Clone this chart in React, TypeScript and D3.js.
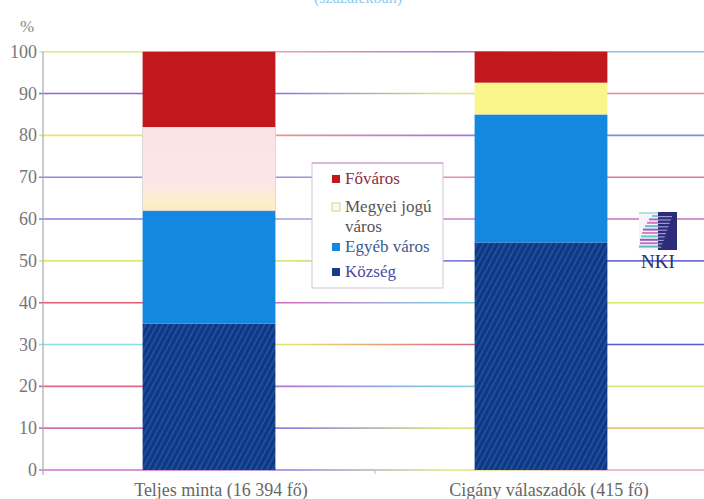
import React from "react";
import * as d3 from "d3";

const categories = ["Teljes minta (16 394 fő)", "Cigány válaszadók (415 fő)"];
const seriesNames = ["Község", "Egyéb város", "Megyei jogú város", "Főváros"];
const kozseg = [35, 54.4];
const egyeb = [27, 30.6];
const megyei = [20, 7.6];
const fovaros = [18, 7.4];
const yTicks = [0, 10, 20, 30, 40, 50, 60, 70, 80, 90, 100];

const W = 704;
const H = 499;

const gridColors: Record<number, string[]> = {
  100: ["#dfe87a", "#e8a0a0", "#a878e0", "#88c8ec"],
  90: ["#9064d8", "#8a7ae0", "#e4e878", "#e88890"],
  80: ["#e6e66a", "#e89090", "#a878e0", "#7890e0"],
  70: ["#9a84dc", "#a090e0", "#e890a0", "#e07890"],
  60: ["#8080e0", "#a0a0e0", "#d080c0", "#c870c0"],
  50: ["#dce870", "#d8e880", "#8080e0", "#7070d8"],
  40: ["#e05a78", "#d070c0", "#80d0e8", "#d8e870"],
  30: ["#8ae0e0", "#e8e070", "#e07080", "#5858d0"],
  20: ["#e06888", "#b078d8", "#80d0e8", "#d8e878"],
  10: ["#d070b0", "#9a80e0", "#d8e880", "#e8c080"],
  0: ["#d070d0", "#9080e0", "#e0e880", "#e8a8b8"],
};

const fills = ["url(#hatch)", "#1488e0", "#fbf58c", "#c0181c"];
const legendSwatch = ["#1a3a90", "#1488e0", "#fdfbe6", "#c0181c"];
const legendText = ["#4a4aa0", "#3a5a90", "#555", "#8a3040"];

export default function App() {
  const y = d3.scaleLinear().domain([0, 100]).range([470, 51.7]);
  const x = d3
    .scaleBand<string>()
    .domain(categories)
    .range([43, 707])
    .paddingInner(0.6)
    .paddingOuter(0.3);

  const rows = categories.map((c, i) => ({
    cat: c,
    "Község": kozseg[i],
    "Egyéb város": egyeb[i],
    "Megyei jogú város": megyei[i],
    "Főváros": fovaros[i],
  }));
  const stacked = d3.stack<any>().keys(seriesNames)(rows);

  const serif = "'Liberation Serif', 'DejaVu Serif', serif";

  const legendItems = [
    { name: "Főváros", idx: 3, sy: 175, lines: ["Főváros"] },
    { name: "Megyei jogú város", idx: 2, sy: 203, lines: ["Megyei jogú", "város"] },
    { name: "Egyéb város", idx: 1, sy: 243, lines: ["Egyéb város"] },
    { name: "Község", idx: 0, sy: 268, lines: ["Község"] },
  ];

  const logoStripes = [
    { c: "#70d0c8", w: 6 },
    { c: "#a070c8", w: 9 },
    { c: "#e070b0", w: 11 },
    { c: "#60c0c0", w: 13 },
    { c: "#9060c0", w: 15 },
    { c: "#e080c0", w: 16 },
    { c: "#60c8c0", w: 17 },
    { c: "#8060c0", w: 18 },
    { c: "#d070b0", w: 18 },
    { c: "#60b8c0", w: 19 },
  ];

  return (
    <svg
      width={W}
      height={H}
      style={{ position: "absolute", left: 0, top: 0, background: "#fff" }}
    >
      <defs>
        <pattern
          id="hatch"
          patternUnits="userSpaceOnUse"
          width={5}
          height={5}
          patternTransform="rotate(28)"
        >
          <rect width={5} height={5} fill="#0c3886" />
          <line x1={1} y1={0} x2={1} y2={5} stroke="#3563a8" strokeWidth={1} />
        </pattern>
        <linearGradient id="pinkBar" x1="0" y1="0" x2="0" y2="1">
          <stop offset="0" stopColor="#fbe3e6" />
          <stop offset="0.7" stopColor="#fce6e6" />
          <stop offset="0.9" stopColor="#fcf0c8" />
          <stop offset="1" stopColor="#fde9c8" />
        </linearGradient>
        {yTicks.map((t) => {
          const cs = gridColors[t];
          return (
            <linearGradient
              key={t}
              id={`g${t}`}
              gradientUnits="userSpaceOnUse"
              x1={39}
              y1={0}
              x2={704}
              y2={0}
            >
              <stop offset="0" stopColor={cs[0]} />
              <stop offset="0.16" stopColor={cs[0]} />
              <stop offset="0.38" stopColor={cs[1]} />
              <stop offset="0.62" stopColor={cs[2]} />
              <stop offset="0.86" stopColor={cs[3]} />
              <stop offset="1" stopColor={cs[3]} />
            </linearGradient>
          );
        })}
      </defs>

      {/* faint title, cut off at top as in the reference */}
      <text
        x={358}
        y={3}
        textAnchor="middle"
        fontFamily={serif}
        fontSize={16}
        fill="#8ccbf0"
      >
        (százalékban)
      </text>

      {/* % label */}
      <text x={27} y={32} textAnchor="middle" fontFamily={serif} fontSize={17} fill="#888">
        %
      </text>

      {/* gridlines */}
      {yTicks.map((t) => (
        <line
          key={t}
          x1={39}
          x2={704}
          y1={y(t)}
          y2={y(t)}
          stroke={`url(#g${t})`}
          strokeWidth={1.6}
        />
      ))}

      {/* y axis */}
      <line x1={43} x2={43} y1={y(100)} y2={475} stroke="#aaa" strokeWidth={1.2} />
      {yTicks.map((t) => (
        <text
          key={t}
          x={37}
          y={y(t) + 6}
          textAnchor="end"
          fontFamily={serif}
          fontSize={18}
          fill="#777"
        >
          {t}
        </text>
      ))}
      <line x1={375} x2={375} y1={470} y2={474} stroke="#bbb" strokeWidth={1} />

      {/* bars */}
      {stacked.map((layer, si) =>
        layer.map((d, ci) => {
          const fill = si === 2 && ci === 0 ? "url(#pinkBar)" : fills[si];
          return (
            <rect
              key={`${si}-${ci}`}
              x={x(categories[ci])}
              width={x.bandwidth()}
              y={y(d[1])}
              height={y(d[0]) - y(d[1])}
              fill={fill}
              stroke={si === 2 && ci === 0 ? "#d8d0d0" : "none"}
              strokeWidth={0.8}
            />
          );
        })
      )}

      {/* x labels */}
      {categories.map((c) => (
        <text
          key={c}
          x={(x(c) as number) + x.bandwidth() / 2 + (c === categories[0] ? 12 : 8)}
          y={496}
          textAnchor="middle"
          fontFamily={serif}
          fontSize={18}
          fill="#666"
        >
          {c}
        </text>
      ))}

      {/* legend */}
      <rect x={312} y={163} width={131} height={125} fill="#fff" stroke="#cfc6dc" strokeWidth={1} />
      <line x1={312} x2={443} y1={163} y2={163} stroke="#c890c8" strokeWidth={1} />
      {legendItems.map((it) => (
        <g key={it.name}>
          <rect
            x={332}
            y={it.sy}
            width={8}
            height={8}
            fill={legendSwatch[it.idx]}
            stroke={it.idx === 2 ? "#c8d0a8" : "none"}
            strokeWidth={1}
          />
          {it.lines.map((ln, li) => (
            <text
              key={li}
              x={345}
              y={it.sy + 9 + li * 20}
              fontFamily={serif}
              fontSize={17}
              fill={legendText[it.idx]}
            >
              {ln}
            </text>
          ))}
        </g>
      ))}

      {/* NKI logo */}
      <g>
        <rect x={639} y={212} width={38} height={38} fill="#f4f4fa" />
        <line x1={639} x2={658} y1={213} y2={213} stroke="#70d0c0" strokeWidth={1} />
        {logoStripes.map((s, i) => (
          <rect key={i} x={658 - s.w} y={215 + i * 3.4} width={s.w} height={2} fill={s.c} />
        ))}
        <rect x={658} y={212} width={19} height={38} fill="#2c2c78" />
        {logoStripes.map((s, i) => (
          <rect
            key={`r${i}`}
            x={658}
            y={216 + i * 3.4}
            width={Math.max(2, 14 - i * 1.2)}
            height={1.2}
            fill="#9a9ad8"
          />
        ))}
        <text
          x={658}
          y={268}
          textAnchor="middle"
          fontFamily={serif}
          fontSize={19}
          fill="#2a3070"
        >
          NKI
        </text>
      </g>
    </svg>
  );
}
